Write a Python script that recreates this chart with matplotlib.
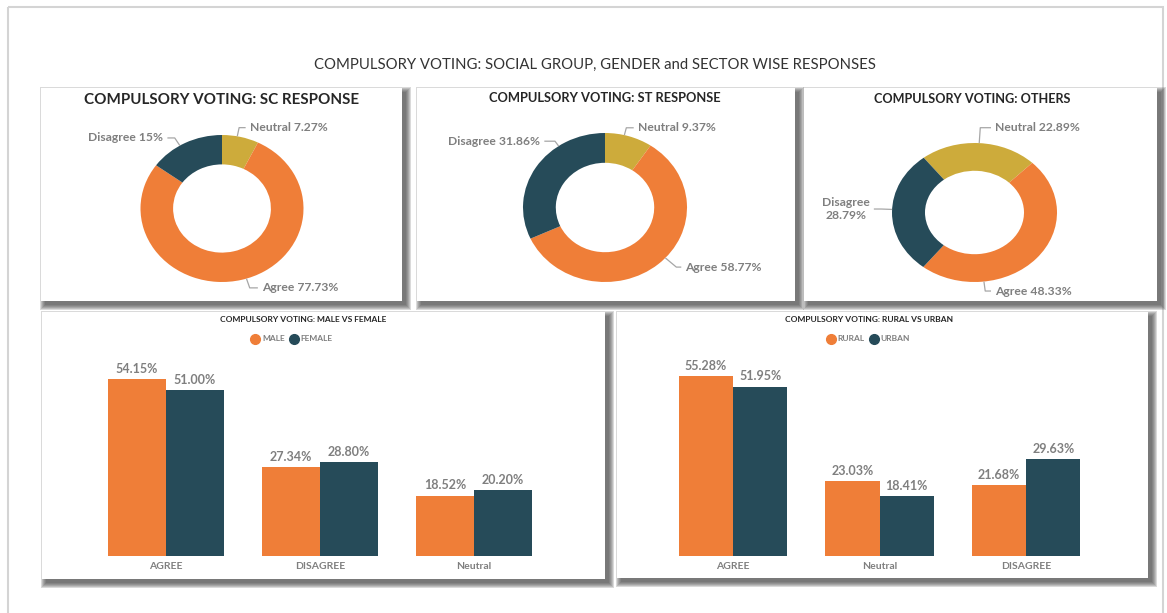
import numpy as np
import matplotlib
matplotlib.use('Agg')
import matplotlib.pyplot as plt
from matplotlib.patches import Rectangle
from matplotlib.lines import Line2D

plt.rcParams['font.family'] = ['Lato', 'DejaVu Sans']

# ---- data ----
pie_labels = ['Neutral', 'Agree', 'Disagree']
sc_values = [7.27, 77.73, 15.0]
st_values = [9.37, 58.77, 31.86]
others_values = [22.89, 48.33, 28.79]
sc_text = ['Neutral 7.27%', 'Agree 77.73%', 'Disagree 15%']
st_text = ['Neutral 9.37%', 'Agree 58.77%', 'Disagree 31.86%']
others_text = ['Neutral 22.89%', 'Agree 48.33%', 'Disagree\n28.79%']

gender_cats = ['AGREE', 'DISAGREE', 'Neutral']
male = [54.15, 27.34, 18.52]
female = [51.00, 28.80, 20.20]

sector_cats = ['AGREE', 'Neutral', 'DISAGREE']
rural = [55.28, 23.03, 21.68]
urban = [51.95, 18.41, 29.63]

ORANGE = '#EF7E38'
TEAL = '#264B59'
MUSTARD = '#CDAB3B'
GREY_TXT = '#7f7f7f'
DARK_TXT = '#262626'

W, H = 1167, 613
fig = plt.figure(figsize=(W / 100, H / 100), dpi=100)
fig.patch.set_facecolor('white')

# background canvas in pixel units
bg = fig.add_axes([0, 0, 1, 1], zorder=-10)
bg.set_xlim(0, W)
bg.set_ylim(H, 0)
bg.axis('off')

bg.add_patch(Rectangle((8, 7), 1155, 620, fill=False, ec='#d4d4d4', lw=1.5))
bg.text(595, 65, 'COMPULSORY VOTING: SOCIAL GROUP, GENDER and SECTOR WISE RESPONSES',
        ha='center', va='center', fontsize=10.7, color='#333333')


def panel(x0, y0, x1, y1):
    # soft drop shadow then white card
    for k in range(6):
        bg.add_patch(Rectangle((x0 + 4 - k, y0 + 4 - k), x1 - x0 + 2 * k, y1 - y0 + 2 * k,
                               fc='#4a4a4a', ec='none', alpha=0.2))
    bg.add_patch(Rectangle((x0, y0), x1 - x0, y1 - y0, fc='white', ec='none'))


panel(41, 88, 402, 301)
panel(417, 88, 795, 301)
panel(804, 88, 1157, 301)
panel(42, 312, 605, 579)
panel(617, 312, 1148, 578)

bg.text(222, 100, 'COMPULSORY VOTING: SC RESPONSE', ha='center', va='center',
        fontsize=10.9, fontweight='bold', color=DARK_TXT)
bg.text(605, 98, 'COMPULSORY VOTING: ST RESPONSE', ha='center', va='center',
        fontsize=9.3, fontweight='bold', color=DARK_TXT)
bg.text(972, 99, 'COMPULSORY VOTING: OTHERS', ha='center', va='center',
        fontsize=9.1, fontweight='bold', color=DARK_TXT)
bg.text(303, 320, 'COMPULSORY VOTING: MALE VS FEMALE', ha='center', va='center',
        fontsize=6, fontweight='bold', color=DARK_TXT)
bg.text(869, 320, 'COMPULSORY VOTING: RURAL VS URBAN', ha='center', va='center',
        fontsize=6, fontweight='bold', color=DARK_TXT)

K = 1.4


def donut(cx, cy, rx, ry, values, texts, spots):
    ax = fig.add_axes([(cx - K * rx) / W, 1 - (cy + K * ry) / H, 2 * K * rx / W, 2 * K * ry / H])
    wedges, _ = ax.pie(values, colors=[MUSTARD, ORANGE, TEAL], startangle=spots['start'],
                       counterclock=False, radius=1,
                       wedgeprops=dict(width=0.4, linewidth=0))
    ax.set_aspect('auto')
    ax.set_xlim(-K, K)
    ax.set_ylim(-K, K)
    ax.patch.set_alpha(0)
    for w, txt, (tx, ty, ex, ha) in zip(wedges, texts, spots['labels']):
        # leader line hits the wedge rim at the point nearest the elbow
        a = np.degrees(np.arctan2(ty, ex))
        while a < w.theta1:
            a += 360
        while a > w.theta2:
            a -= 360
        a = min(max(a, w.theta1), w.theta2)
        px, py = np.cos(np.radians(a)), np.sin(np.radians(a))
        gap = 0.05 if ha == 'left' else -0.05
        ax.plot([px, ex, tx - gap], [py, ty, ty], color='#a6a6a6', lw=0.9,
                clip_on=False, solid_capstyle='butt')
        ax.text(tx, ty, txt, ha=ha, va='center', fontsize=8.7, fontweight='bold',
                color=GREY_TXT, multialignment='center', clip_on=False)
    return ax


donut(222, 208.5, 81.5, 73.5, sc_values, sc_text,
      dict(start=90, labels=[(0.34, 1.10, 0.21, 'left'),
                             (0.49, -1.08, 0.34, 'left'),
                             (-0.72, 0.96, -0.58, 'right')]))
donut(605, 207.5, 82, 74.5, st_values, st_text,
      dict(start=90, labels=[(0.40, 1.07, 0.26, 'left'),
                             (0.98, -0.80, 0.87, 'left'),
                             (-0.79, 0.89, -0.61, 'right')]))
donut(974.5, 212.5, 82.5, 69.5, others_values, others_text,
      dict(start=128, labels=[(0.25, 1.22, 0.07, 'left'),
                              (0.25, -1.13, 0.13, 'left'),
                              (-1.27, 0.05, -1.13, 'right')]))

PX_PER_PCT = 3.26
BASE = 556


def bars(c0, step, bw, cats, s1, s2, names, leg_x):
    left = c0 - 0.7 * step
    right = c0 + 2.7 * step
    top = BASE - 60 * PX_PER_PCT
    ax = fig.add_axes([left / W, 1 - BASE / H, (right - left) / W, (BASE - top) / H])
    ax.patch.set_alpha(0)
    x = np.arange(len(cats))
    b1 = ax.bar(x - bw / 2, s1, bw, color=ORANGE)
    b2 = ax.bar(x + bw / 2, s2, bw, color=TEAL)
    for bs in (b1, b2):
        for r in bs:
            ax.annotate(f'{r.get_height():.2f}%', (r.get_x() + r.get_width() / 2, r.get_height()),
                        xytext=(0, 3), textcoords='offset points', ha='center', va='bottom',
                        fontsize=9, fontweight='bold', color=GREY_TXT)
    ax.set_xlim(-0.7, 2.7)
    ax.set_ylim(0, 60)
    ax.set_xticks(x)
    ax.set_xticklabels(cats, fontsize=7.5, color=GREY_TXT, fontweight='bold')
    ax.tick_params(length=0, pad=4)
    ax.set_yticks([])
    for s in ax.spines.values():
        s.set_visible(False)
    handles = [Line2D([], [], ls='none', marker='o', ms=7, mfc=c, mec=c) for c in (ORANGE, TEAL)]
    fig.legend(handles, names, loc='center', bbox_to_anchor=(leg_x / W, 1 - 339 / H), ncol=2,
               frameon=False, handletextpad=0.3, columnspacing=0.6, handlelength=1.0,
               prop=dict(size=6, weight='bold'), labelcolor=GREY_TXT)


bars(166, 154, 0.377, gender_cats, male, female, ['MALE', 'FEMALE'], 292)
bars(733, 146.5, 0.372, sector_cats, rural, urban, ['RURAL', 'URBAN'], 868)

fig.savefig('out.png', dpi=100)
